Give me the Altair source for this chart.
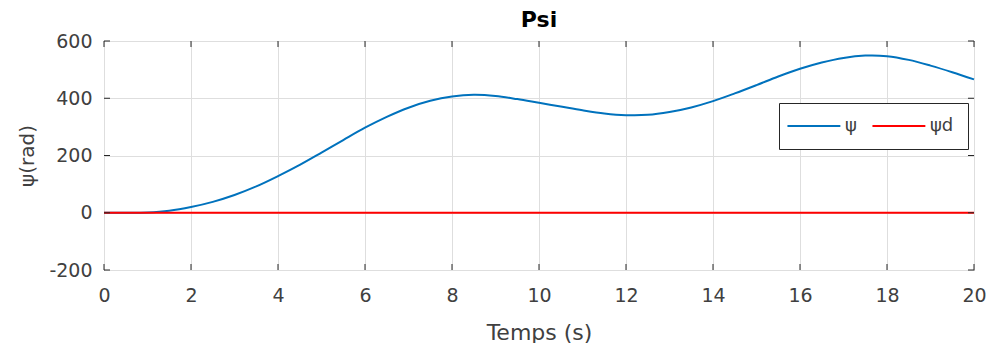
import altair as alt
import pandas as pd

# Data
t_vals = [0, 0.5, 1, 1.5, 2, 2.5, 3, 3.5, 4, 4.5, 5, 5.5, 6, 6.5, 7, 7.5, 8, 8.5, 9, 9.5,
          10, 10.5, 11, 11.5, 12, 12.5, 13, 13.5, 14, 14.5, 15, 15.5, 16, 16.5, 17, 17.5,
          18, 18.5, 19, 19.5, 20]
psi_vals = [0, 0, 1, 7, 20, 38, 62, 92, 128, 167, 210, 254, 297, 335, 367, 391, 406, 412,
            408, 397, 384, 371, 358, 347, 341, 342, 352, 368, 390, 417, 446, 476, 503, 525,
            541, 549, 547, 534, 514, 491, 466]
psid_vals = [0] * len(t_vals)
series_names = ["ψ", "ψd"]
series_colors = ["#0072BD", "#FF0000"]
x_ticks = [0, 2, 4, 6, 8, 10, 12, 14, 16, 18, 20]
y_ticks = [-200, 0, 200, 400, 600]

rows = []
for t, p in zip(t_vals, psi_vals):
    rows.append({"t": t, "v": p, "s": series_names[0]})
for t, p in zip(t_vals, psid_vals):
    rows.append({"t": t, "v": p, "s": series_names[1]})
df = pd.DataFrame(rows)

W, H = 870, 229
FONT = "DejaVu Sans"
TXT = "#262626"
LBL = "#404040"

x_scale = alt.Scale(domain=[0, 20], nice=False, zero=False)
y_scale = alt.Scale(domain=[-200, 600], nice=False, zero=False)

lines = alt.Chart(df).mark_line(strokeWidth=2, interpolate="catmull-rom").encode(
    x=alt.X("t:Q", scale=x_scale,
            axis=alt.Axis(values=x_ticks, title="Temps (s)", grid=True, ticks=False,
                          domain=False, labelPadding=16, titlePadding=17,
                          labelFlush=False, labelFontSize=19, titleFontSize=22)),
    y=alt.Y("v:Q", scale=y_scale,
            axis=alt.Axis(values=y_ticks, title="ψ(rad)", grid=True, ticks=False,
                          domain=False, labelPadding=12, titlePadding=11,
                          labelFlush=False, labelFontSize=19, titleFontSize=20,
                          labelExpr="datum.value < 0 ? '-' + abs(datum.value) : '' + datum.value")),
    color=alt.Color("s:N", scale=alt.Scale(domain=series_names, range=series_colors),
                    legend=alt.Legend(title=None, orient="none", legendX=675, legendY=62,
                                      direction="horizontal", symbolType="M-2.75,0H7.25",
                                      symbolSize=112, symbolStrokeWidth=2,
                                      strokeColor=TXT, fillColor="white",
                                      padding=14, labelFontSize=18, labelColor=LBL,
                                      labelFont=FONT, columnPadding=11, labelOffset=34)),
    order=alt.Order("s:N", sort="descending"),
)

xt = pd.DataFrame({"x": x_ticks})
yt = pd.DataFrame({"y": y_ticks})
tick_style = dict(color=TXT, strokeWidth=1)
xb = alt.Chart(xt).mark_rule(**tick_style).encode(
    x=alt.X("x:Q", scale=x_scale), y=alt.value(H), y2=alt.value(H - 6))
xtop = alt.Chart(xt).mark_rule(**tick_style).encode(
    x=alt.X("x:Q", scale=x_scale), y=alt.value(0), y2=alt.value(6))
yl = alt.Chart(yt).mark_rule(**tick_style).encode(
    y=alt.Y("y:Q", scale=y_scale), x=alt.value(0), x2=alt.value(6))
yr = alt.Chart(yt).mark_rule(**tick_style).encode(
    y=alt.Y("y:Q", scale=y_scale), x=alt.value(W), x2=alt.value(W - 6))

chart = alt.layer(lines, xb, xtop, yl, yr).properties(
    width=W, height=H,
    title=alt.Title("Psi", fontSize=22, fontWeight="bold", font=FONT, color="#000000",
                    offset=0),
    autosize=alt.AutoSizeParams(type="none"),
    padding={"left": 96, "top": 33, "right": 13, "bottom": 73},
).configure_view(
    stroke=TXT, strokeWidth=1
).configure_axis(
    gridColor="#dedede", gridWidth=1, labelFont=FONT, titleFont=FONT,
    labelColor=LBL, titleColor=LBL, titleFontWeight="normal"
)

chart.save("out.html", embed_options={"renderer": "svg", "actions": False})
